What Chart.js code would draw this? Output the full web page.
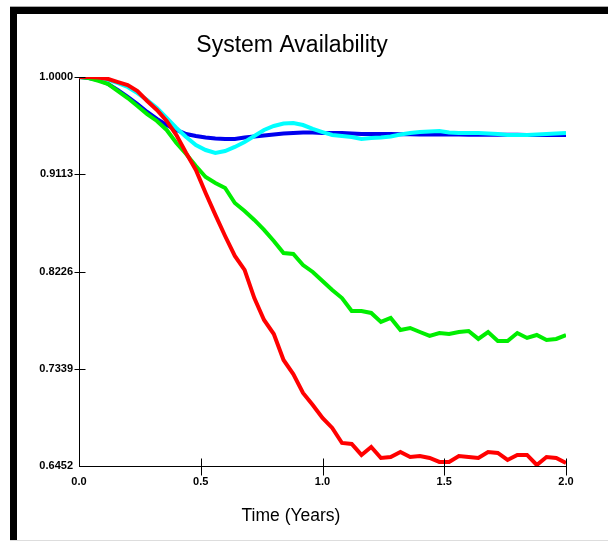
<!DOCTYPE html>
<html>
<head>
<meta charset="utf-8">
<script src="https://cdn.jsdelivr.net/npm/chart.js@4/dist/chart.umd.min.js"></script>
<style>
  html, body { margin: 0; padding: 0; background: #fff; }
  #wrap { position: relative; width: 608px; height: 541px; }
  #chart { position: absolute; left: 0; top: 0; }
  /* frame around the plot, like the original window */
  #frame {
    position: absolute; left: 10px; top: 6px; width: 598px; height: 535px;
    box-sizing: border-box;
    border-top: 1px solid #aaa;
    border-bottom: 1px solid #ddd;
    pointer-events: none;
  }
  #frame .top { position: absolute; left: 0; top: 0; right: 0; height: 7px; background: #000; }
  #frame .left { position: absolute; left: 0; top: 0; width: 7px; bottom: 0; background: #000; }
</style>
</head>
<body>
<div id="wrap">
  <canvas id="chart" width="608" height="541"></canvas>
  <div id="frame"><div class="top"></div><div class="left"></div></div>
</div>
<script>
// time in years (x values of every curve)
const years = [0.00, 0.04, 0.08, 0.12, 0.16, 0.20, 0.24, 0.28, 0.32, 0.36,
               0.40, 0.44, 0.48, 0.52, 0.56, 0.60, 0.64, 0.68, 0.72, 0.76,
               0.80, 0.84, 0.88, 0.92, 0.96, 1.00, 1.04, 1.08, 1.12, 1.16,
               1.20, 1.24, 1.28, 1.32, 1.36, 1.40, 1.44, 1.48, 1.52, 1.56,
               1.60, 1.64, 1.68, 1.72, 1.76, 1.80, 1.84, 1.88, 1.92, 1.96, 2.00];

const redAvail = [1.0000, 1.0000, 0.9995, 0.9982, 0.9954, 0.9927, 0.9872, 0.9781, 0.9699, 0.9599,
                  0.9471, 0.9307, 0.9152, 0.8942, 0.8742, 0.8550, 0.8368, 0.8240, 0.7984, 0.7784,
                  0.7656, 0.7419, 0.7291, 0.7118, 0.7009, 0.6890, 0.6799, 0.6662, 0.6653, 0.6553,
                  0.6626, 0.6525, 0.6534, 0.6580, 0.6534, 0.6543, 0.6525, 0.6489, 0.6489, 0.6543,
                  0.6534, 0.6525, 0.6580, 0.6571, 0.6507, 0.6553, 0.6553, 0.6461, 0.6534, 0.6525, 0.6480];

const greenAvail = [1.0000, 0.9991, 0.9964, 0.9936, 0.9872, 0.9808, 0.9736, 0.9662, 0.9599, 0.9517,
                    0.9398, 0.9298, 0.9188, 0.9088, 0.9033, 0.8988, 0.8851, 0.8778, 0.8696, 0.8605,
                    0.8504, 0.8395, 0.8386, 0.8285, 0.8222, 0.8140, 0.8057, 0.7984, 0.7866, 0.7866,
                    0.7848, 0.7766, 0.7802, 0.7693, 0.7711, 0.7674, 0.7638, 0.7665, 0.7656, 0.7674,
                    0.7683, 0.7611, 0.7674, 0.7592, 0.7592, 0.7665, 0.7620, 0.7647, 0.7601, 0.7611, 0.7647];

const cyanAvail = [1.0000, 1.0000, 0.9991, 0.9973, 0.9945, 0.9909, 0.9854, 0.9790, 0.9717, 0.9626,
                   0.9535, 0.9453, 0.9380, 0.9334, 0.9307, 0.9325, 0.9362, 0.9407, 0.9462, 0.9517,
                   0.9553, 0.9576, 0.9580, 0.9562, 0.9526, 0.9498, 0.9471, 0.9462, 0.9453, 0.9435,
                   0.9444, 0.9448, 0.9457, 0.9476, 0.9489, 0.9498, 0.9503, 0.9508, 0.9494, 0.9489,
                   0.9489, 0.9489, 0.9485, 0.9480, 0.9471, 0.9471, 0.9471, 0.9476, 0.9480, 0.9485, 0.9489];

const blueAvail = [1.0000, 0.9991, 0.9973, 0.9936, 0.9881, 0.9818, 0.9754, 0.9681, 0.9617, 0.9562,
                   0.9517, 0.9480, 0.9462, 0.9448, 0.9439, 0.9435, 0.9435, 0.9448, 0.9457, 0.9466,
                   0.9476, 0.9485, 0.9489, 0.9494, 0.9494, 0.9489, 0.9489, 0.9489, 0.9485, 0.9480,
                   0.9480, 0.9480, 0.9480, 0.9478, 0.9478, 0.9476, 0.9476, 0.9476, 0.9475, 0.9475,
                   0.9474, 0.9474, 0.9474, 0.9473, 0.9473, 0.9473, 0.9472, 0.9472, 0.9472, 0.9471, 0.9471];

// axis ticks as printed on the original
const yTicks = [0.6452, 0.7339, 0.8226, 0.9113, 1.0000];
const xTicks = [0.0, 0.5, 1.0, 1.5, 2.0];

function points(vals) {
  return years.map((t, i) => ({ x: t, y: vals[i] }));
}

// draws the crossing tick marks and the two titles
const decorations = {
  id: 'decorations',
  afterDraw(chart) {
    const ctx = chart.ctx;
    const xs = chart.scales.x, ys = chart.scales.y;
    const ax = Math.round(xs.left) + 0.5;
    const ay = Math.round(ys.bottom) + 0.5;
    ctx.save();
    ctx.strokeStyle = '#000';
    ctx.lineWidth = 1;
    ctx.beginPath();
    yTicks.slice(1).forEach(v => {
      const py = Math.round(ys.getPixelForValue(v)) + 0.5;
      ctx.moveTo(ax - 5, py);
      ctx.lineTo(ax + 6, py);
    });
    xTicks.slice(1).forEach(v => {
      const px = Math.round(xs.getPixelForValue(v)) + 0.5;
      ctx.moveTo(px, ay - 8);
      ctx.lineTo(px, ay + 9);
    });
    ctx.stroke();

    ctx.fillStyle = '#000';
    ctx.textAlign = 'center';
    ctx.textBaseline = 'middle';
    ctx.font = '23px "Liberation Sans", Arial, sans-serif';
    ctx.fillText('System Availability', 292, 46);
    ctx.font = '17.5px "Liberation Sans", Arial, sans-serif';
    ctx.fillText('Time (Years)', 291, 516);
    ctx.restore();
  }
};

const ds = (data, color) => ({
  data: points(data),
  borderColor: color,
  backgroundColor: color,
  borderWidth: 4,
  pointRadius: 0,
  tension: 0,
  fill: false
});

new Chart(document.getElementById('chart'), {
  type: 'line',
  data: {
    datasets: [
      ds(redAvail, '#ff0000'),
      ds(greenAvail, '#00ee00'),
      ds(cyanAvail, '#00ffff'),
      ds(blueAvail, '#0000ee')
    ]
  },
  options: {
    responsive: false,
    animation: false,
    layout: { padding: { left: 0, top: 77, right: 42, bottom: 0 } },
    plugins: { legend: { display: false }, tooltip: { enabled: false } },
    scales: {
      x: {
        type: 'linear',
        min: 0, max: 2,
        afterFit(scale) { scale.height = 75; },
        afterBuildTicks(scale) { scale.ticks = xTicks.map(v => ({ value: v })); },
        grid: { display: true, drawOnChartArea: false, drawTicks: false },
        border: { display: true, color: '#000', width: 1 },
        ticks: {
          padding: 9,
          color: '#000',
          font: { family: '"Liberation Sans", Arial, sans-serif', size: 11, weight: 'bold' },
          callback: v => Number(v).toFixed(1),
          maxRotation: 0
        }
      },
      y: {
        type: 'linear',
        min: yTicks[0], max: yTicks[yTicks.length - 1],
        afterFit(scale) { scale.width = 79; },
        afterBuildTicks(scale) { scale.ticks = yTicks.map(v => ({ value: v })); },
        grid: { display: true, drawOnChartArea: false, drawTicks: false },
        border: { display: true, color: '#000', width: 1 },
        ticks: {
          padding: 6,
          color: '#000',
          font: { family: '"Liberation Sans", Arial, sans-serif', size: 11, weight: 'bold' },
          callback: v => Number(v).toFixed(4)
        }
      }
    }
  },
  plugins: [decorations]
});
</script>
</body>
</html>
